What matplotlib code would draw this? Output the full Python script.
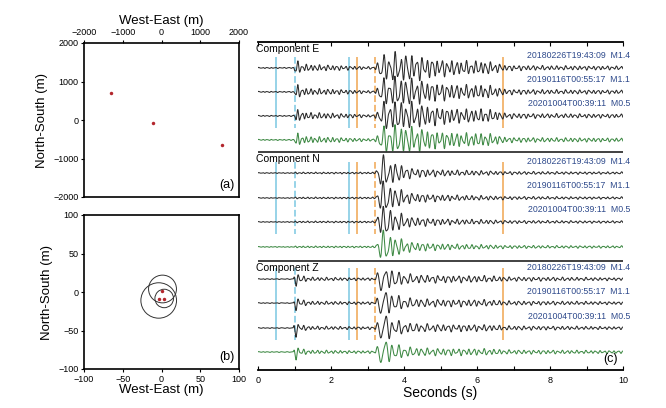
import numpy as np
import matplotlib
matplotlib.use("Agg")
import matplotlib.pyplot as plt
from matplotlib.patches import Circle

plt.rcParams['font.family'] = ['Liberation Sans', 'DejaVu Sans']

# ---- event locations (a): relative positions in metres
loc_x = [-1300, -230, 1550]
loc_y = [700, -90, -640]

# ---- relocated events (b) with error circles
rel_x = [0.2, -2.8, 3.6]
rel_y = [1.7, -9.5, -9.5]
circ_x = [1.3, -3.6, 3.5]
circ_y = [3.9, -11.0, -8.4]
circ_r = [18.0, 23.0, 12.0]

# ---- waveforms (c)
events = ["20180226T19:43:09  M1.4", "20190116T00:55:17  M1.1", "20201004T00:39:11  M0.5"]
components = ["Component E", "Component N", "Component Z"]

# envelope knots (s) and amplitudes (trace spacing = 1)
knot_t = [0.0, 0.97, 1.0, 1.05, 1.15, 1.4, 2.0, 2.8, 3.2, 3.3, 3.45, 3.7, 4.2, 4.8, 5.5, 6.3, 6.8, 8.0, 10.0]
env_E = [0.02, 0.02, 0.2, 0.32, 0.16, 0.12, 0.1, 0.06, 0.04, 0.28, 0.5, 0.55, 0.5, 0.34, 0.26, 0.24, 0.1, 0.08, 0.07]
env_N = [0.015, 0.015, 0.03, 0.03, 0.03, 0.03, 0.03, 0.03, 0.03, 0.45, 0.62, 0.4, 0.18, 0.13, 0.1, 0.08, 0.06, 0.05, 0.04]
env_Z = [0.015, 0.015, 0.2, 0.32, 0.13, 0.07, 0.06, 0.05, 0.05, 0.3, 0.62, 0.3, 0.17, 0.14, 0.13, 0.12, 0.08, 0.07, 0.05]
envelopes = [env_E, env_N, env_Z]

# dominant frequency knots (Hz)
freq_t = [0.0, 1.0, 1.3, 3.2, 3.3, 3.8, 5.0, 10.0]
freq_E = [9.0, 8.0, 8.5, 8.0, 6.0, 6.5, 7.5, 8.0]
freq_N = [9.0, 9.0, 9.0, 9.0, 5.0, 6.5, 7.5, 8.0]
freq_Z = [9.0, 6.0, 8.0, 8.0, 4.0, 6.0, 7.0, 8.0]
freqs = [freq_E, freq_N, freq_Z]

# phase detail per event
ev_shift = [0.0, 0.006, -0.006]
ev_phase = [0.0, 0.35, 0.7]

# marker lines (s)
pick_t = [0.5, 1.0, 2.5, 2.7, 3.2, 6.7]
pick_c = ['#8fd0e6', '#8fd0e6', '#8fd0e6', '#f2b36b', '#f2b36b', '#f2b36b']
pick_ls = ['-', '--', '-', '-', '--', '-']

# trace rows (in trace-spacing units from top of panel c)
rows = [[1.08, 2.08, 3.08, 4.08], [5.46, 6.5, 7.5, 8.54], [9.88, 10.88, 11.92, 12.92]]
panel_tops = [0.0, 4.58, 9.13]
y_bottom = 13.67

t = np.arange(0, 10.0, 0.004)


def wiggle(comp, k):
    tt = t - ev_shift[k]
    f = np.interp(tt, freq_t, freqs[comp])
    ph = 2 * np.pi * np.cumsum(f) * (t[1] - t[0])
    w = (np.sin(ph) + 0.4 * np.sin(1.63 * ph + ev_phase[k])
         + 0.25 * np.sin(0.57 * ph + 2 * ev_phase[k])) / 1.3
    return np.interp(tt, knot_t, envelopes[comp]) * w


fig = plt.figure(figsize=(6.66, 4.08), dpi=100)

# ---------- (a)
axa = fig.add_axes([84 / 666, 1 - 197 / 408, 155 / 666, 154 / 408])
axa.plot(loc_x, loc_y, 'o', color='#b3262d', ms=2.5, mew=0)
axa.set_xlim(-2000, 2000)
axa.set_ylim(-2000, 2000)
axa.set_xticks([-2000, -1000, 0, 1000, 2000])
axa.set_yticks([-2000, -1000, 0, 1000, 2000])
axa.xaxis.tick_top()
axa.xaxis.set_label_position('top')
axa.set_xlabel("West-East (m)", fontsize=9.5, labelpad=3)
axa.set_ylabel("North-South (m)", fontsize=9.5, labelpad=4)
axa.tick_params(labelsize=6.5, length=2.5, pad=1.5, width=0.8)
axa.text(0.97, 0.04, "(a)", transform=axa.transAxes, ha='right', va='bottom', fontsize=9)
for s in axa.spines.values():
    s.set_linewidth(1.2)

# ---------- (b)
axb = fig.add_axes([84 / 666, 1 - 369 / 408, 155 / 666, 154 / 408])
for cx, cy, r in zip(circ_x, circ_y, circ_r):
    axb.add_patch(Circle((cx, cy), r, fill=False, ec='#333333', lw=0.7))
axb.plot(rel_x, rel_y, 'o', color='#b3262d', ms=2.5, mew=0)
axb.set_xlim(-100, 100)
axb.set_ylim(-100, 100)
axb.set_xticks([-100, -50, 0, 50, 100])
axb.set_yticks([-100, -50, 0, 50, 100])
axb.set_xlabel("West-East (m)", fontsize=9.5, labelpad=0)
axb.set_ylabel("North-South (m)", fontsize=9.5, labelpad=4)
axb.tick_params(labelsize=6.5, length=2.5, pad=1.5, width=0.8)
axb.text(0.97, 0.04, "(b)", transform=axb.transAxes, ha='right', va='bottom', fontsize=9)
for s in axb.spines.values():
    s.set_linewidth(1.2)

# ---------- (c)
axc = fig.add_axes([258 / 666, 1 - 370 / 408, 365 / 666, 328 / 408])
axc.set_xlim(0, 10)
axc.set_ylim(y_bottom, 0)
for c in range(3):
    r = rows[c]
    for tp, col, ls in zip(pick_t, pick_c, pick_ls):
        axc.vlines(tp, r[0] - 0.45, r[2] + 0.5, colors=col, linestyles=ls, lw=1.3, zorder=1)
    traces = [wiggle(c, k) for k in range(3)]
    for k in range(3):
        axc.plot(t, r[k] - traces[k], color='#2b2b2b', lw=0.75, zorder=2)
        axc.text(10.2, r[k] - 0.5, events[k], ha='right', va='center',
                 fontsize=6.3, color='#2e4a8c', clip_on=False)
    stack = np.mean(traces, axis=0)
    axc.plot(t, r[3] - stack, color='#3f8a45', lw=0.75, zorder=2)
    axc.text(-0.05, panel_tops[c] + 0.3, components[c], ha='left', va='center', fontsize=7.5)
    if c > 0:
        axc.axhline(panel_tops[c], color='#333333', lw=1.3)

axc.spines['left'].set_visible(False)
axc.spines['right'].set_visible(False)
axc.spines['top'].set_linewidth(1.3)
axc.spines['bottom'].set_linewidth(1.3)
axc.set_yticks([])
axc.set_xticks(np.arange(0, 11, 2))
axc.set_xticks(np.arange(1, 10, 2), minor=True)
axc.tick_params(axis='x', which='both', direction='in', top=True, length=3, width=0.8,
                labelsize=6.5, pad=4)
axc.set_xlabel("Seconds (s)", fontsize=10, labelpad=1)
axc.text(0.985, 0.015, "(c)", transform=axc.transAxes, ha='right', va='bottom', fontsize=9)

fig.savefig("out.png", dpi=100)
